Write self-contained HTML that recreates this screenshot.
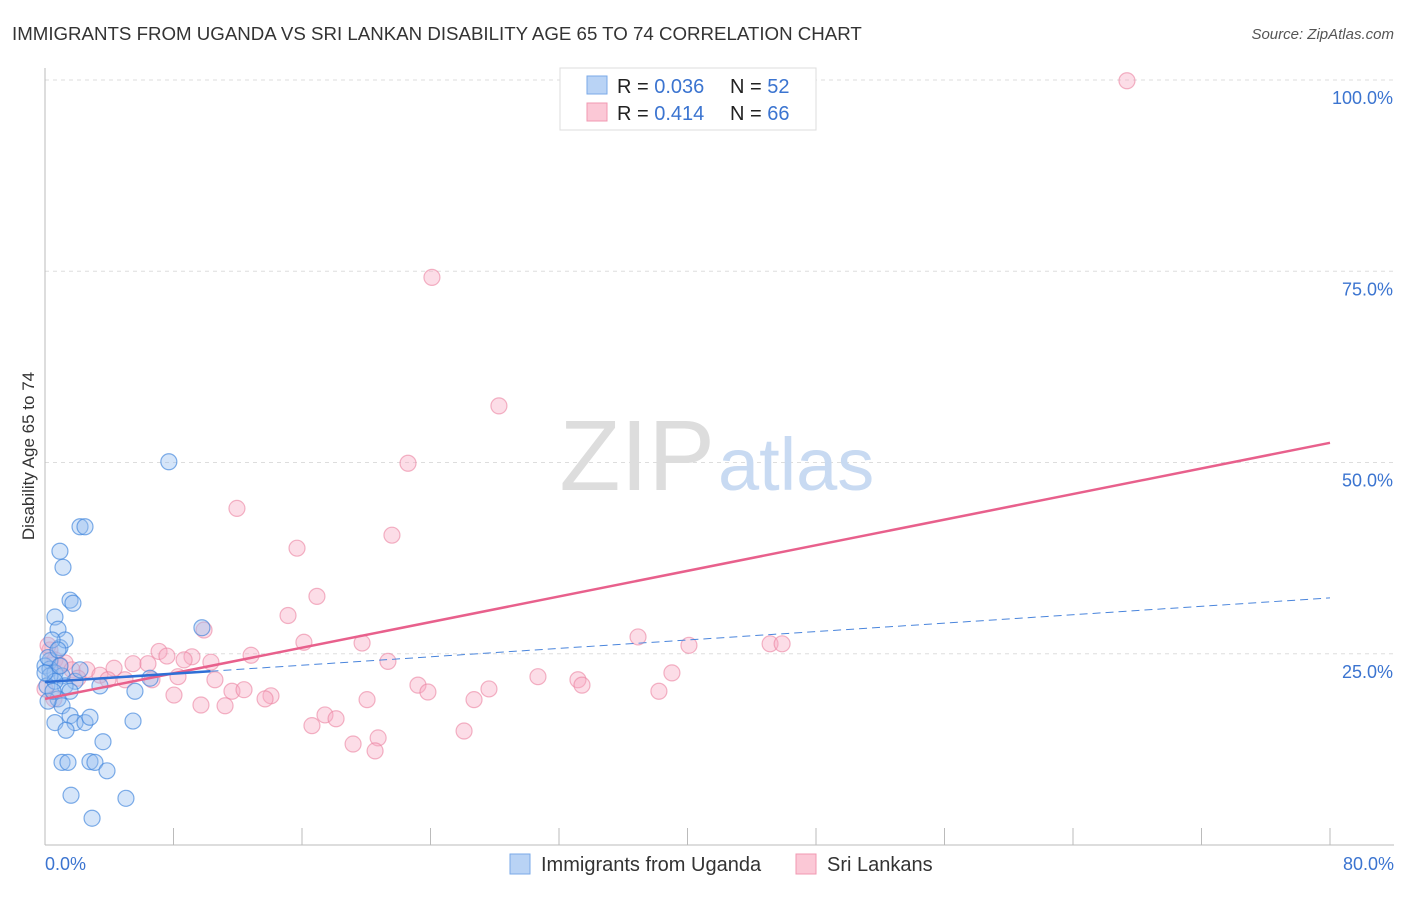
<!DOCTYPE html>
<html><head><meta charset="utf-8"><style>
body{margin:0;background:#fff;font-family:"Liberation Sans",sans-serif;}
svg text{font-family:"Liberation Sans",sans-serif;}
</style></head><body>
<svg id="c" width="1406" height="892">
<text x="12" y="40" font-size="18.7" fill="#333">IMMIGRANTS FROM UGANDA VS SRI LANKAN DISABILITY AGE 65 TO 74 CORRELATION CHART</text>
<text x="1394" y="39" font-size="15" fill="#555" font-style="italic" text-anchor="end">Source: ZipAtlas.com</text>
<text x="34" y="456" font-size="17" fill="#333" text-anchor="middle" transform="rotate(-90 34 456)">Disability Age 65 to 74</text>
<g id="grid"></g>
<text x="715" y="490" font-size="100" fill="#ddd" text-anchor="end" font-family="Liberation Serif">ZIP</text>
<text x="718" y="490" font-size="74" fill="#c8daf2">atlas</text>
<g id="pts"></g>
<g id="lines"></g>
<g>
<rect x="560" y="68" width="256" height="62" fill="#fff" stroke="#ddd"/>
<rect x="587" y="76" width="20" height="18" fill="#b9d3f5" stroke="#7aaae8"/>
<rect x="587" y="103" width="20" height="18" fill="#fbc8d6" stroke="#f098b2"/>
<text x="617" y="93" font-size="20" fill="#222">R = <tspan fill="#3b74d0">0.036</tspan></text>
<text x="730" y="93" font-size="20" fill="#222">N = <tspan fill="#3b74d0">52</tspan></text>
<text x="617" y="120" font-size="20" fill="#222">R = <tspan fill="#3b74d0"> 0.414</tspan></text>
<text x="730" y="120" font-size="20" fill="#222">N = <tspan fill="#3b74d0">66</tspan></text>
</g>
<g>
<rect x="510" y="854" width="20" height="20" fill="#b9d3f5" stroke="#7aaae8"/>
<text x="541" y="871" font-size="20" fill="#333">Immigrants from Uganda</text>
<rect x="796" y="854" width="20" height="20" fill="#fbc8d6" stroke="#f098b2"/>
<text x="827" y="871" font-size="20" fill="#333">Sri Lankans</text>
</g>
</svg>
<script>
const yTicks=[25,50,75,100];
const yTickLabels=["25.0%","50.0%","75.0%","100.0%"];
const xTickCount=10;
const xLabels=["0.0%","80.0%"];
const ugandaX=[7.71,2.18,2.49,0.93,1.12,1.56,1.74,0.62,0.81,9.77,0.93,0.31,0,0.31,0.62,1.06,1.87,1.25,1.56,3.42,5.6,0.81,1.06,0.62,1.56,1.87,2.49,2.8,5.48,1.31,3.61,1.06,1.43,2.8,3.11,3.86,1.62,5.04,2.93,0.19,0.31,0.12,0.62,0.93,6.54,2.18,1.25,0.44,0.81,0,0.19,0.5];
const ugandaY=[50.1,41.6,41.6,38.4,36.3,32,31.6,29.8,28.2,28.4,25.8,24.1,23.4,23,22.5,22.1,21.4,20.8,20.1,20.8,20.1,19.1,18.2,16,16.9,16,16,16.7,16.2,15,13.5,10.8,10.8,10.9,10.8,9.7,6.5,6.1,3.5,24.5,22.1,20.8,21.4,23.4,21.8,22.9,26.8,26.8,25.5,22.5,18.8,20.1];
const lankaX=[67.36,24.09,28.26,22.6,11.95,21.6,15.69,16.93,15.13,9.9,36.92,16.12,19.74,40.09,45.14,45.89,7.1,7.59,12.83,9.15,8.66,10.33,5.48,6.41,21.35,2.61,3.42,4.3,8.28,10.58,4.98,3.92,6.66,30.69,33.18,33.43,39.03,23.22,23.84,27.64,26.71,11.64,12.39,14.07,13.7,8.03,9.71,11.21,20.05,38.22,17.43,16.62,18.12,26.09,19.18,20.74,20.55,0.31,0.62,0.93,1.25,0.19,1.68,2.05,0,0.56];
const lankaY=[99.9,74.2,57.4,49.9,44,40.5,38.8,32.5,30,28.1,27.2,26.5,26.4,26.1,26.3,26.3,25.3,24.7,24.8,24.6,24.2,23.9,23.7,23.7,24,22.9,22.2,23.1,22,21.6,21.6,21.6,21.6,22,21.6,20.9,22.5,20.9,20,20.4,19,20.1,20.3,19.5,19.1,19.6,18.3,18.2,19,20.1,17,15.6,16.5,14.9,13.2,14,12.3,25.5,24.2,23.5,23.8,26.1,22.9,21.8,20.4,19.1];
const blueLine=[21.3,0.1375];
const pinkLine=[19.1,0.4184];
const X=v=>45+v/80*1285, Y=v=>845-v*7.65;
const NS="http://www.w3.org/2000/svg";
function mk(t,a,p){const e=document.createElementNS(NS,t);for(const k in a)e.setAttribute(k,a[k]);p.appendChild(e);return e;}
const g=document.getElementById('grid');
yTicks.forEach((v,i)=>{
 const l=mk('line',{x1:45,x2:1394,y1:Y(v),y2:Y(v),stroke:'#ddd','stroke-dasharray':'4,4'},g);
 
 
 const t=mk('text',{x:1393,y:Y(v)+24,'font-size':18,fill:'#3b74d0','text-anchor':'end'},g);t.textContent=yTickLabels[i];
 
 
});
mk('line',{x1:45,x2:45,y1:68,y2:845,stroke:'#bbb'},g);
mk('line',{x1:45,x2:1394,y1:845,y2:845,stroke:'#bbb'},g);
for(let i=1;i<=xTickCount;i++){const t=mk('line',{x1:X(i*8),x2:X(i*8),y1:828,y2:845,stroke:'#bbb'},g);
 
 }
const a=mk('text',{x:45,y:870,'font-size':18,fill:'#3b74d0'},g);a.textContent=xLabels[0];


const b=mk('text',{x:1394,y:870,'font-size':18,fill:'#3b74d0','text-anchor':'end'},g);b.textContent=xLabels[1];


const p=document.getElementById('pts');
lankaX.forEach((v,i)=>{const c=mk('circle',{cx:X(v),cy:Y(lankaY[i]),r:8,fill:'rgba(248,170,195,0.4)',stroke:'rgba(235,130,160,0.6)','stroke-width':1.2},p);
 
 });
ugandaX.forEach((v,i)=>{const c=mk('circle',{cx:X(v),cy:Y(ugandaY[i]),r:8,fill:'rgba(150,190,240,0.4)',stroke:'rgba(60,130,220,0.65)','stroke-width':1.2},p);
 
 });
const L=document.getElementById('lines');
const f=(ln,x)=>ln[0]+ln[1]*x;
let e=mk('line',{x1:X(0),y1:Y(f(pinkLine,0)),x2:X(80),y2:Y(f(pinkLine,80)),stroke:'#e8608c','stroke-width':2.5},L);


e=mk('line',{x1:X(0),y1:Y(f(blueLine,0)),x2:X(10.3),y2:Y(f(blueLine,10.3)),stroke:'#2f6fd6','stroke-width':2.5},L);


e=mk('line',{x1:X(10.3),y1:Y(f(blueLine,10.3)),x2:X(80),y2:Y(f(blueLine,80)),stroke:'#4a85dc','stroke-width':1,'stroke-dasharray':'8,5'},L);


</script>
</body></html>
